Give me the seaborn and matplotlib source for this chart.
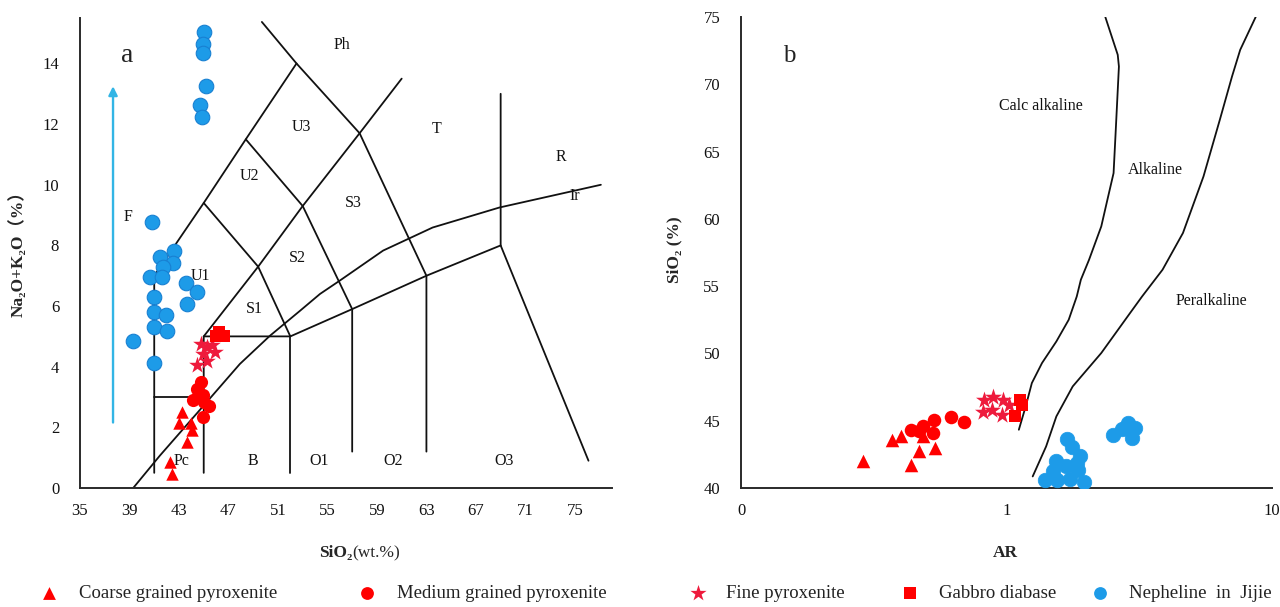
import numpy as np
import pandas as pd
import matplotlib
matplotlib.use('Agg')
import matplotlib.pyplot as plt
import seaborn as sns
from matplotlib.ticker import FixedLocator, FixedFormatter, MultipleLocator, NullFormatter

sns.set_theme(style='white')
plt.rcParams['font.family'] = ['Liberation Serif', 'DejaVu Serif', 'Noto Sans CJK SC']
plt.rcParams['axes.unicode_minus'] = False

# ---------------- Panel a data (TAS) ----------------
a_coarse_sio2 = [43.21, 43.0, 43.94, 44.07, 43.67, 42.3, 42.46]
a_coarse_alk = [2.52, 2.14, 2.14, 1.92, 1.51, 0.85, 0.47]
a_medium_sio2 = [44.75, 44.47, 44.96, 44.15, 45.02, 45.44, 44.91]
a_medium_alk = [3.51, 3.27, 3.08, 2.91, 2.83, 2.69, 2.34]
a_fine_sio2 = [44.82, 45.23, 45.64, 45.9, 44.96, 44.42, 45.23]
a_fine_alk = [4.75, 4.64, 4.73, 4.48, 4.42, 4.07, 4.2]
a_gabbro_sio2 = [46.2, 46.6, 46.0]
a_gabbro_alk = [5.15, 5.0, 5.0]
a_neph_sio2 = [45.0, 44.96, 44.91, 45.15, 44.69, 44.83, 40.79, 42.6, 41.46, 42.54, 41.73,
               40.65, 41.65, 43.56, 44.43, 40.98, 43.62, 40.98, 41.95, 40.98, 42.05, 39.25, 40.98]
a_neph_alk = [15.04, 14.64, 14.34, 13.27, 12.63, 12.24, 8.76, 7.81, 7.63, 7.42, 7.30,
              6.95, 6.95, 6.75, 6.48, 6.29, 6.07, 5.8, 5.71, 5.3, 5.19, 4.86, 4.12]

# TAS field boundaries (SiO2, Na2O+K2O)
tas_boundaries = [
    [(41, 0.5), (41, 7), (45, 9.4), (48.4, 11.5), (52.5, 14), (49.7, 15.37)],
    [(41, 3), (45, 3)],
    [(45, 0.5), (45, 5), (49.4, 7.3), (53, 9.3), (57.6, 11.7), (61, 13.5)],
    [(45, 5), (52, 5), (57, 5.9), (63, 7), (69, 8), (69, 13)],
    [(69, 8), (76.1, 0.9)],
    [(52, 0.5), (52, 5)],
    [(57, 1.2), (57, 5.9), (53, 9.3), (48.4, 11.5)],
    [(63, 1.2), (63, 7), (57.6, 11.7), (52.5, 14)],
    [(45, 9.4), (49.4, 7.3), (52, 5)],
]
irvine_sio2 = [39.3, 41.46, 45, 47.92, 50.35, 52.8, 54.4, 56, 59.5, 63.5, 68.9, 77.1]
irvine_alk = [0, 1.07, 2.72, 4.09, 5.02, 5.85, 6.4, 6.84, 7.83, 8.59, 9.25, 10.0]

tas_labels = ['Ph', 'U3', 'T', 'R', 'Ir', 'U2', 'S3', 'F', 'S2', 'U1', 'S1', 'Pc', 'B', 'O1', 'O2', 'O3']
tas_label_x = [56.2, 52.9, 63.8, 73.9, 75.0, 48.7, 57.1, 38.9, 52.6, 44.7, 49.1, 43.2, 49.0, 54.3, 60.3, 69.3]
tas_label_y = [14.6, 11.9, 11.85, 10.9, 9.64, 10.3, 9.4, 8.95, 7.6, 7.0, 5.9, 0.9, 0.9, 0.9, 0.9, 0.9]

a_xticks_major = [35, 39, 43, 47, 51, 55, 59, 63, 67, 71, 75]
a_yticks_major = [0, 2, 4, 6, 8, 10, 12, 14]

# ---------------- Panel b data (AR vs SiO2) ----------------
b_coarse_ar = [0.289, 0.370, 0.400, 0.437, 0.468, 0.486, 0.537]
b_coarse_sio2 = [41.98, 43.59, 43.89, 41.73, 42.72, 43.83, 42.97]
b_medium_ar = [0.435, 0.484, 0.533, 0.528, 0.618, 0.690, 0.47]
b_medium_sio2 = [44.33, 44.58, 45.07, 44.09, 45.27, 44.87, 44.2]
b_fine_ar = [0.823, 0.889, 0.815, 0.880, 0.973, 0.965, 1.026]
b_fine_sio2 = [46.51, 46.76, 45.62, 45.82, 46.56, 45.45, 46.19]
b_gabbro_ar = [1.12, 1.14, 1.08]
b_gabbro_sio2 = [46.56, 46.19, 45.32]
b_neph_ar = [1.695, 1.762, 1.892, 1.537, 1.839, 1.676, 1.501, 1.865, 1.397, 1.546, 1.736,
             1.965, 2.527, 2.719, 2.878, 3.05, 2.965]
b_neph_sio2 = [43.64, 43.04, 42.4, 41.98, 41.86, 41.61, 41.24, 41.31, 40.61, 40.56, 40.67,
               40.41, 43.96, 44.38, 44.83, 44.46, 43.72]

calc_alk_ar = [1.113, 1.181, 1.246, 1.361, 1.541, 1.715, 1.839, 1.906, 2.046, 2.275, 2.399,
               2.531, 2.576, 2.651, 2.624, 2.357]
calc_alk_sio2 = [44.33, 46.06, 47.8, 49.29, 50.89, 52.5, 54.23, 55.48, 56.96, 59.44, 61.42,
                 63.40, 66.37, 71.32, 72.19, 74.99]
peralk_ar = [1.255, 1.41, 1.541, 1.776, 2.275, 2.92, 3.24, 3.87, 4.62, 5.52, 6.36, 7.07, 7.59, 8.68]
peralk_sio2 = [40.86, 43.09, 45.32, 47.55, 50.03, 53.0, 54.23, 56.22, 58.95, 63.15, 67.36,
               70.58, 72.56, 75.0]

b_labels = ['Calc alkaline', 'Alkaline', 'Peralkaline']
b_label_x = [1.351, 3.63, 5.92]
b_label_y = [68.4, 63.65, 53.86]

b_xticks_major = [0.1, 1, 10]
b_xtick_labels = ['0', '1', '10']
b_yticks_major = [40, 45, 50, 55, 60, 65, 70, 75]

legend_names = ['Coarse grained pyroxenite', 'Medium grained pyroxenite', 'Fine pyroxenite',
                'Gabbro diabase', 'Nepheline  in  Jijie']

# ---------------- styles ----------------
RED = '#FF0000'
STAR = '#EE1A3C'
BLUE = '#1D9BE8'
BLUE_EDGE = '#1880D2'
ARROW = '#33B5E5'
LINE = '#111111'
SPINE = '#2a2a2a'

W, H = 1280, 607
fig = plt.figure(figsize=(12.8, 6.07), dpi=100)
fig.patch.set_facecolor('white')


def rect(x0, y0, x1, y1):
    return [x0 / W, (H - y1) / H, (x1 - x0) / W, (y1 - y0) / H]


axa = fig.add_axes(rect(80, 18, 612, 488))
axb = fig.add_axes(rect(741, 17, 1272, 488))

for ax in (axa, axb):
    ax.set_facecolor('white')
    for s in ('top', 'right'):
        ax.spines[s].set_visible(False)
    for s in ('left', 'bottom'):
        ax.spines[s].set_color(SPINE)
        ax.spines[s].set_linewidth(1.4)
    ax.tick_params(which='both', direction='in', color=SPINE, width=1.1, length=4,
                   labelsize=12, labelcolor='#111111')
    ax.tick_params(axis='x', which='both', pad=11, length=5)
    ax.tick_params(axis='y', which='both', pad=15)


def scatter(ax, x, y, marker, color, s, ec=None, lw=0.0, z=5):
    sns.scatterplot(x=x, y=y, ax=ax, marker=marker, color=color, s=s,
                    edgecolor=ec if ec else color, linewidth=lw, legend=False, zorder=z)


# ---------------- Panel a ----------------
for seg in tas_boundaries:
    xs, ys = zip(*seg)
    axa.plot(xs, ys, color=LINE, lw=1.3, zorder=2, solid_joinstyle='miter')
sns.lineplot(x=irvine_sio2, y=irvine_alk, ax=axa, sort=False, estimator=None,
             color=LINE, lw=1.3, zorder=2)

axa.annotate('', xy=(37.67, 13.25), xytext=(37.67, 2.16),
             arrowprops=dict(arrowstyle='-|>', color=ARROW, lw=1.7, mutation_scale=13,
                             shrinkA=0, shrinkB=0), zorder=3)

scatter(axa, a_neph_sio2, a_neph_alk, 'o', BLUE, 110, BLUE_EDGE, 0.8)
scatter(axa, a_coarse_sio2, a_coarse_alk, '^', RED, 80)
scatter(axa, a_medium_sio2, a_medium_alk, 'o', RED, 90)
scatter(axa, a_fine_sio2, a_fine_alk, '*', STAR, 160)
scatter(axa, a_gabbro_sio2, a_gabbro_alk, 's', RED, 80)

for t, x, y in zip(tas_labels, tas_label_x, tas_label_y):
    axa.text(x, y, t, ha='center', va='center', fontsize=11.5, color='#111111', zorder=4)
axa.text(38.8, 14.25, 'a', ha='center', va='center', fontsize=20, color='#222222')

axa.set_xlim(35, 78)
axa.set_ylim(0, 15.5)
axa.xaxis.set_major_locator(FixedLocator(a_xticks_major))
axa.xaxis.set_minor_locator(MultipleLocator(2))
axa.yaxis.set_major_locator(FixedLocator(a_yticks_major))
axa.yaxis.set_minor_locator(MultipleLocator(1))
axa.xaxis.set_minor_formatter(NullFormatter())
axa.yaxis.set_minor_formatter(NullFormatter())
axa.set_xlabel('')
axa.set_ylabel('')

# ---------------- Panel b ----------------
axb.set_xscale('log')
sns.lineplot(x=calc_alk_ar, y=calc_alk_sio2, ax=axb, sort=False, estimator=None,
             color=LINE, lw=1.3, zorder=2)
sns.lineplot(x=peralk_ar, y=peralk_sio2, ax=axb, sort=False, estimator=None,
             color=LINE, lw=1.3, zorder=2)

scatter(axb, b_neph_ar, b_neph_sio2, 'o', BLUE, 110, BLUE, 0.5)
scatter(axb, b_coarse_ar, b_coarse_sio2, '^', RED, 95)
scatter(axb, b_medium_ar, b_medium_sio2, 'o', RED, 95)
scatter(axb, b_fine_ar, b_fine_sio2, '*', STAR, 165)
scatter(axb, b_gabbro_ar, b_gabbro_sio2, 's', RED, 80)

for t, x, y in zip(b_labels, b_label_x, b_label_y):
    axb.text(x, y, t, ha='center', va='center', fontsize=11.5, color='#111111')
axb.text(0.1514, 72.07, 'b', ha='center', va='center', fontsize=18, color='#222222')

axb.set_xlim(0.1, 10)
axb.set_ylim(40, 75)
axb.xaxis.set_major_locator(FixedLocator(b_xticks_major))
axb.xaxis.set_major_formatter(FixedFormatter(b_xtick_labels))
axb.xaxis.set_minor_locator(FixedLocator([m * d for d in (0.1, 1) for m in range(2, 10)]))
axb.xaxis.set_minor_formatter(NullFormatter())
axb.yaxis.set_major_locator(FixedLocator(b_yticks_major))
axb.yaxis.set_minor_locator(MultipleLocator(1))
axb.yaxis.set_minor_formatter(NullFormatter())
axb.set_xlabel('')
axb.set_ylabel('')

# ---------------- axis titles ----------------
def fx(px):
    return px / W


def fy(py):
    return (H - py) / H


fig.text(fx(352), fy(553), 'SiO₂', ha='right', va='center', fontsize=12.5, fontweight='bold')
fig.text(fx(352), fy(553), '(wt.%)', ha='left', va='center', fontsize=12.5)
fig.text(fx(18), fy(250), 'Na₂O+K₂O（%）', rotation=90, ha='center', va='center',
         fontsize=12.5, fontweight='bold')
fig.text(fx(674), fy(250), 'SiO₂ (%)', rotation=90, ha='center', va='center',
         fontsize=12.5, fontweight='bold')
fig.text(fx(1005), fy(553), 'AR', ha='center', va='center', fontsize=12.5, fontweight='bold')

# ---------------- legend row ----------------
lax = fig.add_axes([0, 0, 1, 40 / H])
lax.set_xlim(0, W)
lax.set_ylim(H, H - 40)
lax.axis('off')
leg_marker_x = [49, 367, 698, 910, 1100]
leg_text_x = [79, 397, 726, 939, 1129]
leg_markers = ['^', 'o', '*', 's', 'o']
leg_colors = [RED, RED, STAR, RED, BLUE]
leg_sizes = [85, 85, 150, 80, 85]
for mx, tx, m, c, s, name in zip(leg_marker_x, leg_text_x, leg_markers, leg_colors, leg_sizes, legend_names):
    sns.scatterplot(x=[mx], y=[593], ax=lax, marker=m, color=c, s=s, edgecolor=c,
                    linewidth=0, legend=False, clip_on=False)
    lax.text(tx, 593, name, ha='left', va='center', fontsize=13.5, color='#222222')
lax.set_xlabel('')
lax.set_ylabel('')

fig.savefig('out.png', dpi=100, facecolor='white')
